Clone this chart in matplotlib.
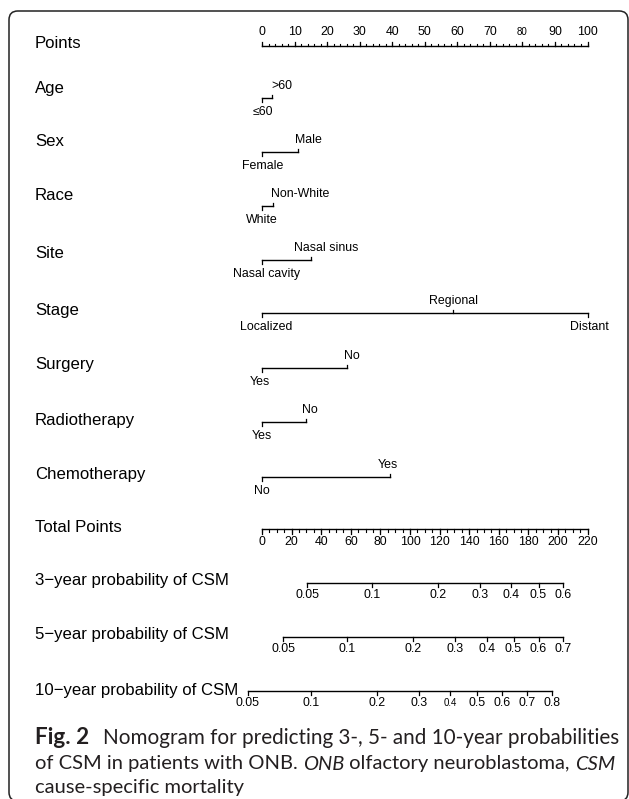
import matplotlib
matplotlib.use('Agg')
import matplotlib.pyplot as plt
from matplotlib.patches import FancyBboxPatch
from matplotlib.transforms import blended_transform_factory

plt.rcParams['font.family'] = ['Liberation Sans', 'DejaVu Sans']

# etiquetas de las filas del nomograma
etiquetas = ['Points', 'Age', 'Sex', 'Race', 'Site', 'Stage', 'Surgery',
             'Radiotherapy', 'Chemotherapy', 'Total Points',
             '3\u2212year probability of CSM', '5\u2212year probability of CSM',
             '10\u2212year probability of CSM']

# escala de puntos
puntos_ticks = list(range(0, 101, 10))
puntos_menores = list(range(0, 101, 2))
puntos_pequenos = [80]  # etiqueta dibujada mas pequena

# variables categoricas (niveles y puntos)
age_niveles = ['\u226460', '>60']
age_puntos = [0, 3]
sex_niveles = ['Female', 'Male']
sex_puntos = [0, 11]
race_niveles = ['White', 'Non-White']
race_puntos = [0, 3.3]
site_niveles = ['Nasal cavity', 'Nasal sinus']
site_puntos = [0, 15]
stage_niveles = ['Localized', 'Regional', 'Distant']
stage_puntos = [0, 58.7, 100]
surgery_niveles = ['Yes', 'No']
surgery_puntos = [0, 26]
radio_niveles = ['Yes', 'No']
radio_puntos = [0, 13.4]
chemo_niveles = ['No', 'Yes']
chemo_puntos = [0, 39.3]

# puntos totales
total_max = 220
total_ticks = list(range(0, 221, 20))
total_menores = list(range(0, 221, 5))

# probabilidades y su posicion en puntos totales
prob3 = [0.05, 0.1, 0.2, 0.3, 0.4, 0.5, 0.6]
prob3_total = [30.6, 74.2, 118.8, 147.4, 168.4, 186.9, 203.4]
prob5 = [0.05, 0.1, 0.2, 0.3, 0.4, 0.5, 0.6, 0.7]
prob5_total = [14.4, 57.7, 102.3, 130.7, 152.0, 170.0, 186.9, 203.4]
prob10 = [0.05, 0.1, 0.2, 0.3, 0.4, 0.5, 0.6, 0.7, 0.8]
prob10_total = [-9.7, 32.9, 78.0, 106.2, 127.1, 145.6, 162.5, 179.0, 196.3]
prob10_pequenos = [0.4]

# ---- disposicion (pixeles) ----
W, H = 629, 799
x0 = 262.0          # pixel del punto 0
esc = 3.255         # pixeles por punto
y_lineas = [46, 98, 152, 206, 260, 313, 368, 422, 477, 529, 583, 637, 691]
y_etiq = [44, 88, 142, 195, 254, 311, 365, 421, 475, 527, 581, 635, 690]
x_etiq = 35
fs_etiq = 12.1
fs_tick = 8.9
fs_peq = 7.0
lw = 1.0

fig = plt.figure(figsize=(W / 100, H / 100), dpi=100)
ax = fig.add_axes([0, 0, 1, 1])
ax.set_xlim(-x0 / esc, (W - x0) / esc)
ax.set_ylim(H, 0)
ax.axis('off')
trans = blended_transform_factory(ax.transAxes, ax.transData)

# marco redondeado
marco = FancyBboxPatch((9 / W, 1 - 801 / H), 619 / W, 790 / H,
                       boxstyle='round,pad=0,rounding_size=0.014',
                       transform=fig.transFigure, fill=False, lw=1.1, ec='#222222',
                       mutation_aspect=W / H)
fig.patches.append(marco)

for i, t in enumerate(etiquetas):
    ax.text(x_etiq / W, y_etiq[i], t, transform=trans, fontsize=fs_etiq,
            ha='left', va='center', color='black')

# fila Points
y = y_lineas[0]
ax.plot([0, 100], [y, y], color='black', lw=lw)
for v in puntos_menores:
    ax.plot([v, v], [y, y - 2.5], color='black', lw=0.8)
for v in puntos_ticks:
    ax.plot([v, v], [y, y - 4.5], color='black', lw=0.9)
    ax.text(v, y - 14, str(v), ha='center', va='center',
            fontsize=fs_peq if v in puntos_pequenos else fs_tick)

# filas categoricas
categoricas = [(age_niveles, age_puntos, [1, 10]),
               (sex_niveles, sex_puntos, [1, 11]),
               (race_niveles, race_puntos, [0, 27]),
               (site_niveles, site_puntos, [5, 15]),
               (stage_niveles, stage_puntos, [4, 0, 2]),
               (surgery_niveles, surgery_puntos, [-2, 5]),
               (radio_niveles, radio_puntos, [0, 4]),
               (chemo_niveles, chemo_puntos, [0, -2])]
for k, (niveles, pts, ajuste) in enumerate(categoricas):
    y = y_lineas[k + 1]
    ax.plot([min(pts), max(pts)], [y, y], color='black', lw=lw)
    for j, (nv, p) in enumerate(zip(niveles, pts)):
        abajo = (j % 2 == 0)
        sgn = 1 if abajo else -1
        ax.plot([p, p], [y, y + sgn * 3.5], color='black', lw=0.9)
        ax.text(p + ajuste[j] / esc, y + (14 if abajo else -12), nv,
                ha='center', va='center', fontsize=fs_tick)

# Total Points
y = y_lineas[9]
f = 100 / total_max
ax.plot([0, 100], [y, y], color='black', lw=lw)
for v in total_menores:
    ax.plot([v * f, v * f], [y, y + 2.5], color='black', lw=0.8)
for v in total_ticks:
    ax.plot([v * f, v * f], [y, y + 4.5], color='black', lw=0.9)
    ax.text(v * f, y + 13, str(v), ha='center', va='center', fontsize=fs_tick)

# probabilidades
filas_prob = [(prob3, prob3_total, []), (prob5, prob5_total, []),
              (prob10, prob10_total, prob10_pequenos)]
for k, (pr, tot, peq) in enumerate(filas_prob):
    y = y_lineas[10 + k]
    xs = [t * f for t in tot]
    ax.plot([xs[0], xs[-1]], [y, y], color='black', lw=lw)
    for p, xv in zip(pr, xs):
        ax.plot([xv, xv], [y, y + 4], color='black', lw=0.9)
        ax.text(xv, y + 12, f'{p:g}', ha='center', va='center',
                fontsize=fs_peq if p in peq else fs_tick)

# pie de figura
fig.canvas.draw()
rend = fig.canvas.get_renderer()
fam = ['Lato', 'DejaVu Sans']


def ancho(s, size, **kw):
    t = fig.text(0, 0, s, fontsize=size, family=fam, **kw)
    w = t.get_window_extent(rend).width
    t.remove()
    return w


linea2 = [('of CSM in patients with ONB. ', 'normal', 'normal'),
          ('ONB', 'normal', 'italic'),
          (' olfactory neuroblastoma, ', 'normal', 'normal'),
          ('CSM', 'normal', 'italic')]
linea3 = [('cause-specific mortality', 'normal', 'normal')]

x_cap = 35
w2 = sum(ancho(s, 10, weight=wt, style=st) for s, wt, st in linea2)
fs_cap = 10 * 581 / w2
color_cap = '#231f20'

# primera linea: "Fig. 2" en negrita y el resto ajustado hasta x=619
fig.text(x_cap / W, 1 - 738 / H, 'Fig. 2', fontsize=fs_cap * 1.12, family=fam,
         weight='bold', ha='left', va='center', color=color_cap)
resto = 'Nomogram for predicting 3-, 5- and 10-year probabilities'
fs_resto = min(fs_cap * 1.03, fs_cap * (619 - 103) / ancho(resto, fs_cap))
fig.text(103 / W, 1 - 738 / H, resto, fontsize=fs_resto, family=fam,
         ha='left', va='center', color=color_cap)

for linea, yc in [(linea2, 764), (linea3, 788)]:
    xc = x_cap
    for s, wt, st in linea:
        fig.text(xc / W, 1 - yc / H, s, fontsize=fs_cap, family=fam,
                 weight=wt, style=st, ha='left', va='center', color=color_cap)
        xc += ancho(s, fs_cap, weight=wt, style=st)

fig.savefig('out.png', dpi=100)
